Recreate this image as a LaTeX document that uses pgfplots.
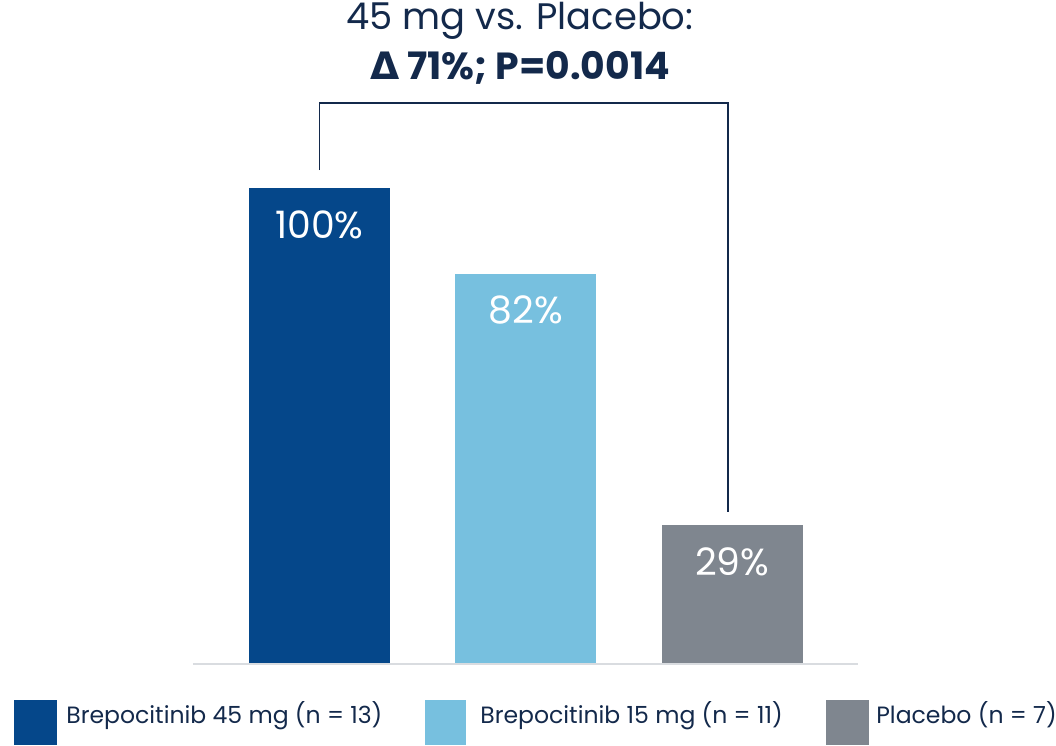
\documentclass[border=0pt]{standalone}
\usepackage{pgfplots}
\pgfplotsset{compat=1.18}
\usepackage{fontspec}
\setmainfont{Poppins}
\newfontfamily\greek{DejaVu Sans}
\definecolor{navy}{HTML}{13294B}
\definecolor{bdark}{HTML}{05478A}
\definecolor{blight}{HTML}{77C0DF}
\definecolor{bgray}{HTML}{7F868F}
\definecolor{baseln}{HTML}{D9DCE0}
\begin{document}
\begin{tikzpicture}[x=0.02cm,y=0.02cm]
\useasboundingbox (0,0) rectangle (1056,745);
\begin{axis}[
  at={(3.86cm,1.64cm)}, anchor=south west,
  scale only axis, width=13.3cm, height=11.4cm,
  xmin=-0.613, xmax=2.608, ymin=0, ymax=120,
  hide axis, clip=false,
  ybar, bar width=0.683, bar shift=0pt,
  /pgf/number format/assume math mode=true,
  nodes near coords={\pgfmathprintnumber{\pgfplotspointmeta}\%},
  every node near coord/.append style={anchor=base, yshift=-1.0cm, text=white,
     font=\fontsize{21.5}{24}\selectfont},
]
\addplot[fill=bdark, draw=none] coordinates {(0,100)};
\addplot[fill=blight, draw=none] coordinates {(1,82)};
\addplot[fill=bgray, draw=none] coordinates {(2,29)};
\addplot[sharp plot, no marks, nodes near coords={}, draw=baseln, line width=0.04cm] coordinates {(-0.613,-0.2) (2.608,-0.2)};
\addplot[sharp plot, no marks, nodes near coords={}, draw=navy, line width=0.035cm] coordinates {(0,103.8) (0,117.9) (1.98,117.9) (1.98,31.8)};
\end{axis}
\node[anchor=base, text=navy, font=\fontsize{21}{24}\selectfont] at (520,715) {45 mg vs. Placebo:};
\node[anchor=base, text=navy, font=\fontsize{21.5}{24}\selectfont\bfseries] at (520,665) {{\greek\bfseries Δ} 71\%; P=0.0014};
\fill[bdark] (14,0) rectangle (57,45);
\fill[blight] (425,0) rectangle (466,45);
\fill[bgray] (826,0) rectangle (869,45);
\begin{scope}[every node/.style={anchor=base west, inner sep=0pt, text=navy, font=\fontsize{13.4}{16}\selectfont}]
\node at (66,22) {Brepocitinib 45 mg (n = 13)};
\node at (480,22) {Brepocitinib 15 mg (n = 11)};
\node at (876,22) {Placebo (n = 7)};
\end{scope}
\end{tikzpicture}
\end{document}
